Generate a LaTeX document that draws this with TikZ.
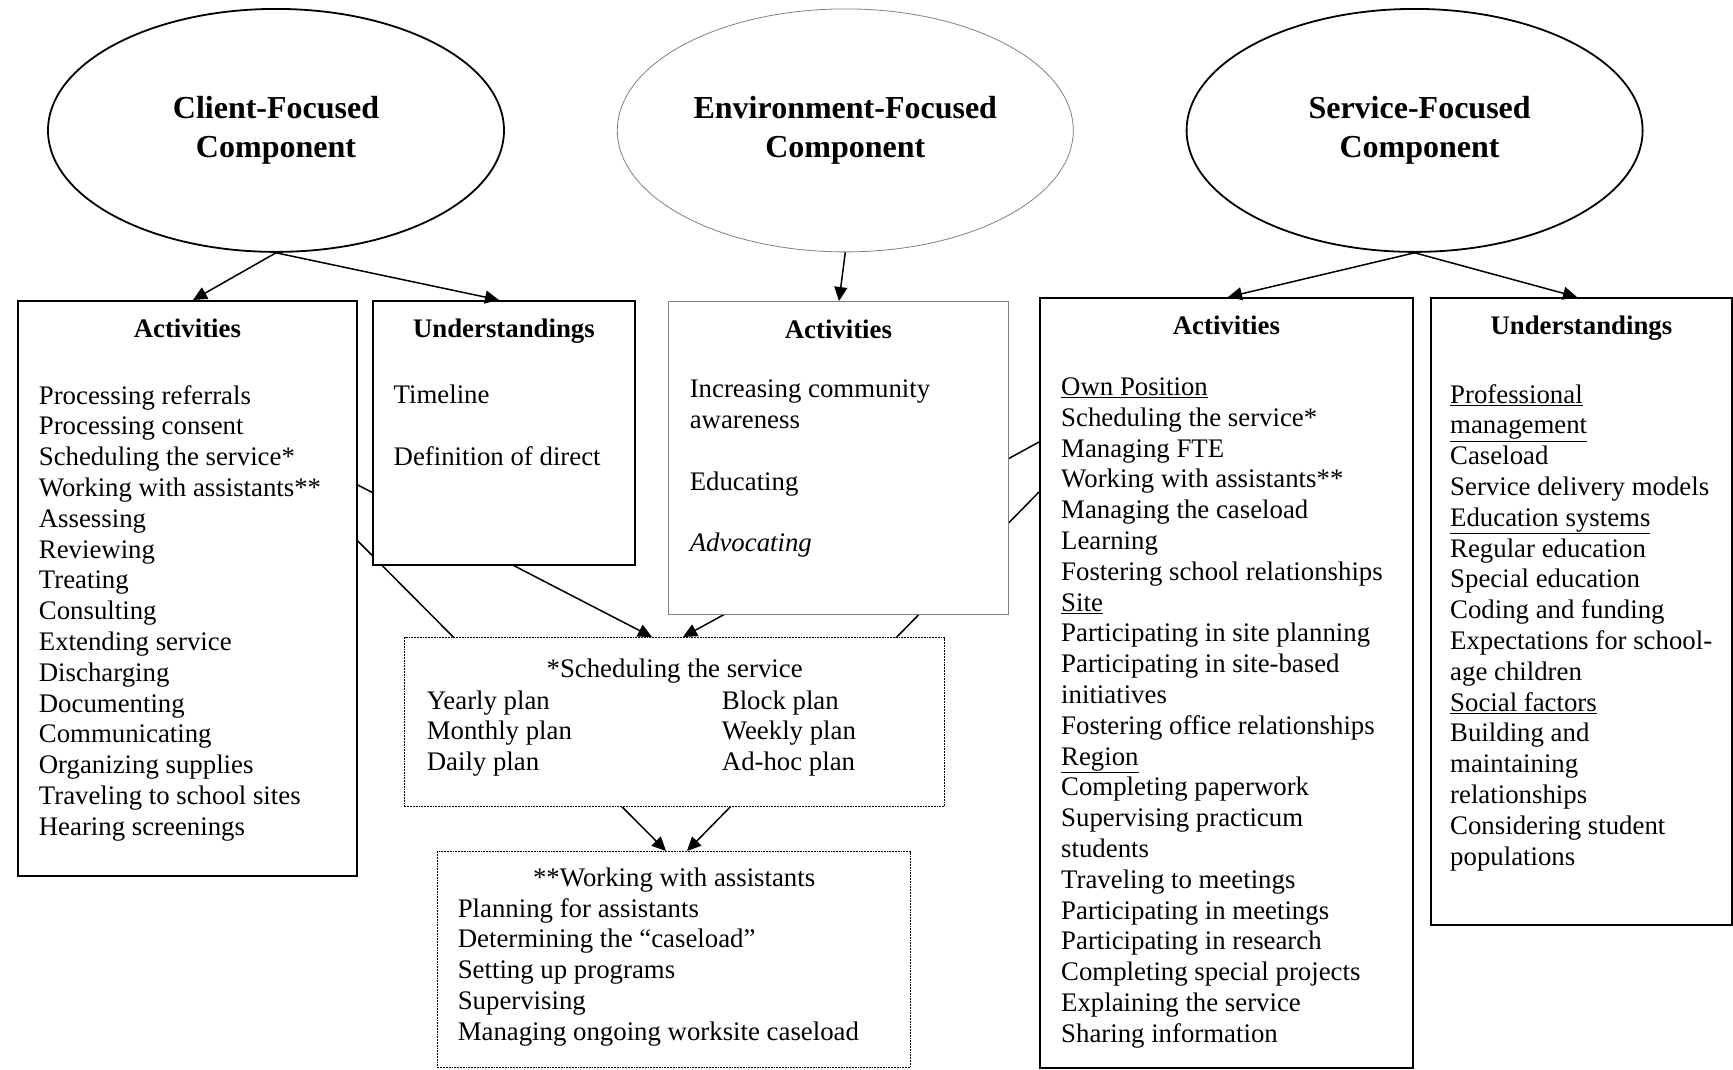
\documentclass[tikz,border=0pt]{standalone}
\usepackage{fontspec}
\setmainfont{Liberation Serif}
\usetikzlibrary{arrows.meta,positioning,shapes.geometric,backgrounds}
\tikzset{
    every node/.style={font=\fontsize{26.8pt}{30.8pt}\selectfont},
    comp node/.style={ellipse,draw,line width=1.8pt,minimum width=456pt,minimum height=243pt,align=center,font=\fontsize{32pt}{38.7pt}\selectfont\bfseries,execute at begin node=\rule{0pt}{36pt}},
    main box/.style={rectangle,draw,line width=1.8pt,fill=white,anchor=north west,inner sep=0pt},
    soft box/.style={main box,draw=black!50,line width=0.8pt},
    note box/.style={main box,densely dotted,line width=1.3pt},
    box title/.style={inner sep=0pt,font=\fontsize{26.8pt}{30.8pt}\selectfont\bfseries,execute at begin node=\strut},
    item list/.style={align=left,inner sep=0pt,execute at begin node=\strut},
    link/.style={line width=1.5pt}
}

\begin{document}
\begin{tikzpicture}[x=1pt,y=1pt,->,>={Triangle[length=14pt,width=13pt]}]
    \useasboundingbox (0,0) rectangle (1733,-1069);

    % the three components
    \node[comp node] (client) at (276,-130.4) {Client-Focused\\Component};
    \node[comp node,draw=black!50,line width=0.8pt] (env) [right=112pt of client] {Environment-Focused\\Component};
    \node[comp node] (service) [right=112pt of env] {\hspace{10pt}Service-Focused\\\hspace{10pt}Component};

    % boxes
    \node[main box,minimum width=339pt,minimum height=575pt] (ca) at (17,-300) {};
    \node[main box,minimum width=262pt,minimum height=264pt] (cu) at (372,-300) {};
    \node[soft box,minimum width=340pt,minimum height=313pt] (ea) at (668,-301) {};
    \node[main box,minimum width=373pt,minimum height=770pt] (sa) at (1039,-297) {};
    \node[main box,minimum width=301pt,minimum height=627pt] (su) at (1430,-297) {};
    \node[note box,minimum width=540pt,minimum height=169pt] (sched) at (404,-637) {};
    \node[note box,minimum width=473pt,minimum height=216pt] (assist) at (437,-851) {};

    % client-focused
    \node[box title] (catitle) [below=15.4pt of ca.north] {Activities};
    \node[item list] (caitems) [below right=85pt and 21.7pt of ca.north west] {Processing referrals\\Processing consent\\Scheduling the service*\\Working with assistants**\\Assessing\\Reviewing\\Treating\\Consulting\\Extending service\\Discharging\\Documenting\\Communicating\\Organizing supplies\\Traveling to school sites\\Hearing screenings};
    \node[box title] (cutitle) [below=15.4pt of cu.north] {Understandings};
    \node[item list] (cuitems) [below right=85pt and 21.5pt of cu.north west] {Timeline\\[30.8pt]Definition of direct};

    % environment-focused
    \node[box title] (eatitle) [below=15.4pt of ea.north] {Activities};
    \node[item list] (eaitems) [below right=79pt and 21.6pt of ea.north west] {Increasing community\\awareness\\[30.8pt]Educating\\[30.8pt]\textit{Advocating}};

    % service-focused
    \node[box title] (satitle) [below=15.4pt of sa.north] {Activities};
    \node[item list] (saitems) [below right=80.5pt and 22pt of sa.north west] {\underline{Own Position}\\Scheduling the service*\\Managing FTE\\Working with assistants**\\Managing the caseload\\Learning\\Fostering school relationships\\\underline{Site}\\Participating in site planning\\Participating in site-based\\initiatives\\Fostering office relationships\\\underline{Region}\\Completing paperwork\\Supervising practicum\\students\\Traveling to meetings\\Participating in meetings\\Participating in research\\Completing special projects\\Explaining the service\\Sharing information};
    \node[box title] (sutitle) [below=15.4pt of su.north] {Understandings};
    \node[item list] (suitems) [below right=87pt and 20pt of su.north west] {\underline{Professional}\\\underline{management}\\Caseload\\Service delivery models\\\underline{Education systems}\\Regular education\\Special education\\Coding and funding\\Expectations for school-\\age children\\\underline{Social factors}\\Building and\\maintaining\\relationships\\Considering student\\populations};

    % notes
    \node[item list] (schedtitle) [below=19pt of sched.north] {*Scheduling the service};
    \node[item list] (schedleft) [below right=53.3pt and 22.6pt of sched.north west] {Yearly plan\\Monthly plan\\Daily plan};
    \node[item list] (schedright) [below right=53.3pt and 317.7pt of sched.north west] {Block plan\\Weekly plan\\Ad-hoc plan};
    \node[item list] (assisttitle) [below=14pt of assist.north] {**Working with assistants};
    \node[item list] (assistitems) [below right=47pt and 20.6pt of assist.north west] {Planning for assistants\\Determining the ``caseload''\\Setting up programs\\Supervising\\Managing ongoing worksite caseload};

    % arrows
    \draw[link] (client.south) -- (193,0 |- ca.north);
    \draw[link] (client.south) -- (499,0 |- cu.north);
    \draw[link] (env.south) -- (839,0 |- ea.north);
    \draw[link] (service.south) -- (1228,0 |- sa.north);
    \draw[link] (service.south) -- (1577,0 |- su.north);

    \begin{scope}[on background layer]
        \draw[link] (ca.north east |- 0,-485) -- (652,0 |- sched.north);
        \draw[link] (ca.north east |- 0,-541) -- (666,0 |- assist.north);
        \draw[link] (sa.north west |- 0,-442) -- (683,0 |- sched.north);
        \draw[link] (sa.north west |- 0,-492) -- (687,0 |- assist.north);
    \end{scope}

\end{tikzpicture}
\end{document}
